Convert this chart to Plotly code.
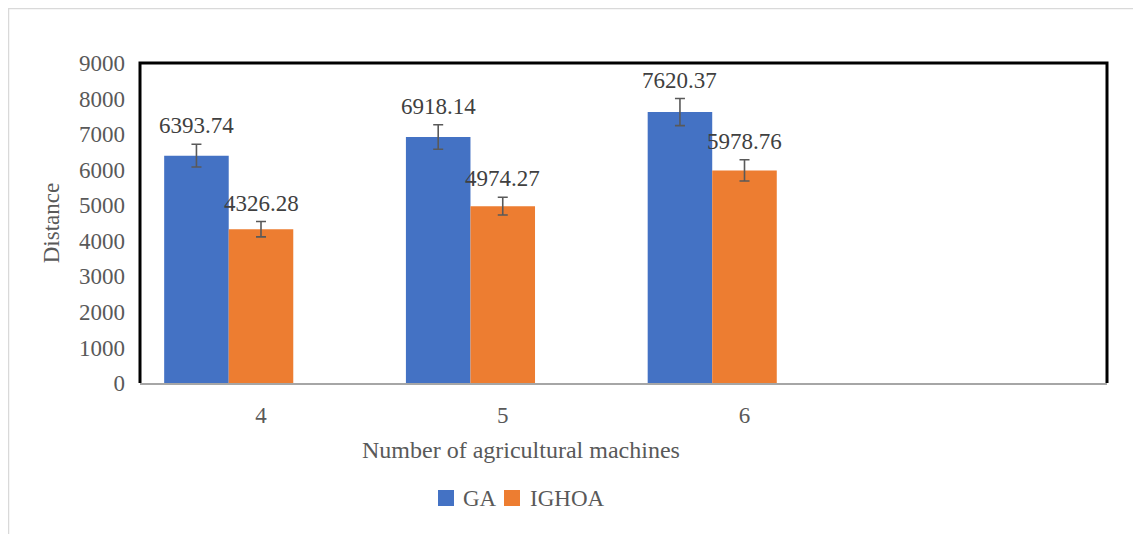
import plotly.graph_objects as go

categories = ["4", "5", "6"]
ga_values = [6393.74, 6918.14, 7620.37]
ighoa_values = [4326.28, 4974.27, 5978.76]
ga_errors = [320, 346, 381]
ighoa_errors = [216, 249, 299]
y_ticks = [0, 1000, 2000, 3000, 4000, 5000, 6000, 7000, 8000, 9000]
legend_names = ["GA", "IGHOA"]

OFF = 8  # page body margin
W, H = 1141 - OFF, 534 - OFF
# target screen coordinates of plot area
SL, SR, ST, SB = 140, 1107, 63, 383
L, R, T, B = SL - OFF, SR - OFF, ST - OFF, SB - OFF
pw, ph = R - L, B - T


def px_x(p):  # screen px -> paper
    return (p - OFF - L) / pw


def px_y(p):
    return (B - (p - OFF)) / ph


FONT = "Liberation Serif"
GRAY = "#595959"
COLORS = ["#4472C4", "#ED7D31"]
xpos = list(range(len(categories)))
bw = 0.267
series = [
    (legend_names[0], ga_values, ga_errors, COLORS[0], -0.4),
    (legend_names[1], ighoa_values, ighoa_errors, COLORS[1], -0.4 + bw),
]

fig = go.Figure()
annotations = []
for name, vals, errs, color, off in series:
    fig.add_trace(go.Bar(
        name=name, x=xpos, y=vals, width=bw, offset=off,
        marker=dict(color=color, line=dict(width=0)),
        error_y=dict(type="data", array=errs, visible=True,
                     color="#595959", thickness=1.6, width=5),
        showlegend=False,
    ))
    for xi, v, e in zip(xpos, vals, errs):
        annotations.append(dict(
            x=xi + off + bw / 2, y=v + e, xref="x", yref="y",
            text=f"{v:.2f}", showarrow=False, yanchor="bottom", yshift=4,
            font=dict(family=FONT, size=23, color="#404040")))

annotations.append(dict(
    x=px_x(521), y=px_y(450), xref="paper", yref="paper",
    text="Number of agricultural machines", showarrow=False,
    xanchor="center", yanchor="middle",
    font=dict(family=FONT, size=24, color=GRAY)))

shapes = [
    dict(type="rect", xref="paper", yref="paper",
         x0=px_x(8.5), x1=px_x(1139), y0=px_y(560), y1=px_y(8.5),
         line=dict(color="#d9d9d9", width=1.5), layer="below"),
    dict(type="path", xref="paper", yref="paper",
         path="M 0 0 L 0 1 L 1 1 L 1 0",
         line=dict(color="#000000", width=3), layer="above"),
]

# legend (squares + labels)
leg_items = [(438, 461), (504, 528)]
for (sq_x, tx), name, color in zip(leg_items, legend_names, COLORS):
    shapes.append(dict(type="rect", xref="paper", yref="paper",
                       x0=px_x(sq_x), x1=px_x(sq_x + 16),
                       y0=px_y(506), y1=px_y(490),
                       fillcolor=color, line=dict(width=0)))
    annotations.append(dict(
        x=px_x(tx), y=px_y(498), xref="paper", yref="paper",
        text=name, showarrow=False, xanchor="left", yanchor="middle",
        font=dict(family=FONT, size=23, color=GRAY)))

fig.update_layout(
    width=W, height=H,
    margin=dict(l=L, r=W - R, t=T, b=H - B, pad=0),
    paper_bgcolor="white", plot_bgcolor="white",
    barmode="overlay",
    showlegend=False,
    font=dict(family=FONT, size=23, color=GRAY),
    annotations=annotations,
    shapes=shapes,
    xaxis=dict(range=[-0.5, 3.5], tickmode="array", tickvals=xpos,
               ticktext=categories, showgrid=False, zeroline=False,
               showline=True, linecolor="#a6a6a6", linewidth=2,
               ticks="", ticklabelstandoff=10,
               tickfont=dict(family=FONT, size=23, color=GRAY)),
    yaxis=dict(range=[0, 9000], tickmode="array", tickvals=y_ticks,
               showgrid=False, zeroline=False, showline=False,
               ticks="", ticklabelstandoff=14,
               tickfont=dict(family=FONT, size=23, color=GRAY),
               title=dict(text="Distance", standoff=12,
                          font=dict(family=FONT, size=23, color=GRAY))),
)

fig.write_html("out.html")
